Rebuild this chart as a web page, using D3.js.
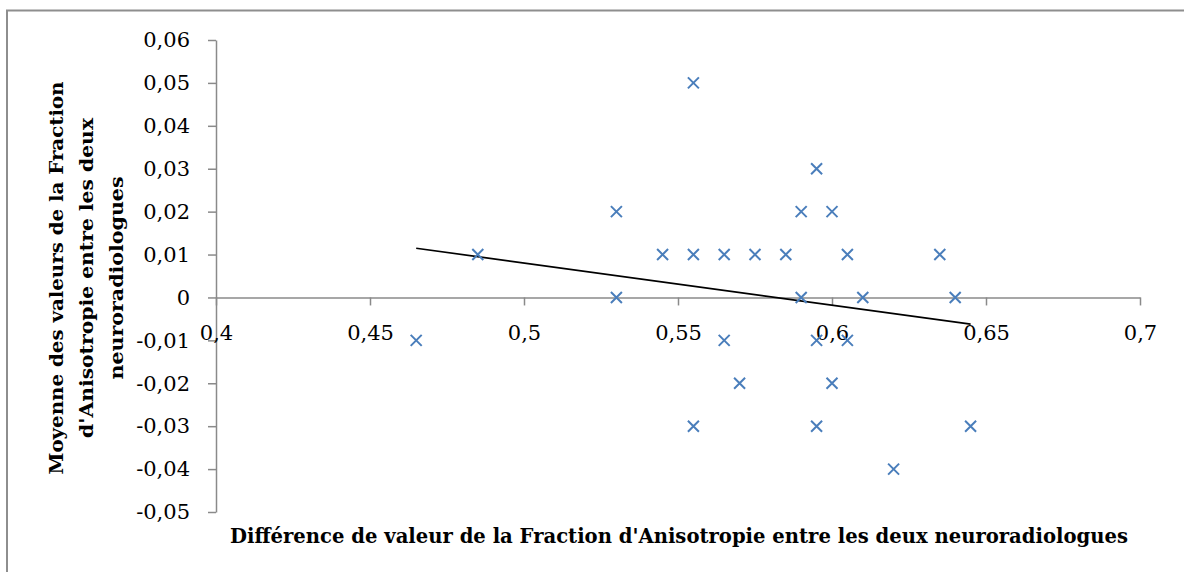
<!DOCTYPE html>
<html><head><meta charset="utf-8">
<script src="https://cdn.jsdelivr.net/npm/d3@7"></script>
<style>html,body{margin:0;padding:0;background:#fff;}svg{display:block;}</style>
</head><body>
<svg id="chart" width="1184" height="572"></svg>
<script>
const xValues = [0.465,0.485,0.53,0.53,0.545,0.555,0.555,0.555,0.565,0.565,0.57,0.575,0.585,0.59,0.59,0.595,0.595,0.595,0.6,0.6,0.605,0.605,0.61,0.62,0.635,0.64,0.645];
const yValues = [-0.01,0.01,0.02,0,0.01,0.05,0.01,-0.03,0.01,-0.01,-0.02,0.01,0.01,0.02,0,0.03,-0.01,-0.03,0.02,-0.02,0.01,-0.01,0,-0.04,0.01,0,-0.03];
const xTicks = [0.4,0.45,0.5,0.55,0.6,0.65,0.7];
const xTickLabels = ["0,4","0,45","0,5","0,55","0,6","0,65","0,7"];
const yTicks = [0.06,0.05,0.04,0.03,0.02,0.01,0,-0.01,-0.02,-0.03,-0.04,-0.05];
const yTickLabels = ["0,06","0,05","0,04","0,03","0,02","0,01","0","-0,01","-0,02","-0,03","-0,04","-0,05"];
const xTitle = "Différence de valeur de la Fraction d'Anisotropie entre les deux neuroradiologues";
const yTitleLines = ["Moyenne des valeurs de la Fraction","d'Anisotropie entre les deux","neuroradiologues"];

const svg = d3.select("#chart");
const axisColor = "#8a8a8a";
const serif = "'DejaVu Serif', serif";

// outer frame
svg.append("rect").attr("x",7).attr("y",10.5).attr("width",1200).attr("height",600)
  .attr("fill","none").attr("stroke","#8e8e8e").attr("stroke-width",2);

const x = d3.scaleLinear().domain([0.4,0.7]).range([216,1140]);
const y = d3.scaleLinear().domain([-0.05,0.06]).range([512,40]);

// Y axis
const yAxis = d3.axisLeft(y).tickValues(yTicks).tickSize(8).tickSizeOuter(0).tickPadding(18)
  .tickFormat((d,i)=>yTickLabels[yTicks.indexOf(d)]);
const gy = svg.append("g").attr("transform",`translate(${x(0.4)},0)`).call(yAxis);
gy.select(".domain").attr("stroke",axisColor).attr("stroke-width",1.5);
gy.selectAll(".tick line").attr("stroke",axisColor).attr("stroke-width",1.5);
gy.selectAll(".tick text").attr("font-family",serif).attr("font-size",21).attr("fill","#000");

// X axis at y = 0
const xAxis = d3.axisBottom(x).tickValues(xTicks).tickSize(8).tickSizeOuter(0).tickPadding(20)
  .tickFormat(d=>xTickLabels[xTicks.indexOf(d)]);
const gx = svg.append("g").attr("transform",`translate(0,${y(0)})`).call(xAxis);
gx.select(".domain").attr("stroke",axisColor).attr("stroke-width",1.5);
gx.selectAll(".tick line").attr("stroke",axisColor).attr("stroke-width",1.5);
gx.selectAll(".tick text").attr("font-family",serif).attr("font-size",21).attr("fill","#000");

// trend line (least squares)
const n = xValues.length;
const mx = d3.mean(xValues), my = d3.mean(yValues);
let sxy=0, sxx=0;
for(let i=0;i<n;i++){ sxy += (xValues[i]-mx)*(yValues[i]-my); sxx += (xValues[i]-mx)**2; }
const slope = sxy/sxx, icpt = my - slope*mx;
const x0 = d3.min(xValues), x1 = d3.max(xValues);
svg.append("line")
  .attr("x1",x(x0)).attr("y1",y(icpt+slope*x0))
  .attr("x2",x(x1)).attr("y2",y(icpt+slope*x1))
  .attr("stroke","#000").attr("stroke-width",1.7);

// markers
const pts = xValues.map((v,i)=>({x:v,y:yValues[i]}));
svg.append("g").selectAll("path").data(pts).join("path")
  .attr("transform",d=>`translate(${x(d.x)},${y(d.y)})`)
  .attr("d","M-5.5,-5.5L5.5,5.5M-5.5,5.5L5.5,-5.5")
  .attr("stroke","#4a7ebb").attr("stroke-width",2).attr("fill","none");

// x title
svg.append("text").attr("x",679).attr("y",543).attr("text-anchor","middle")
  .attr("font-family",serif).attr("font-weight","bold").attr("font-size",20)
  .attr("textLength",898).attr("lengthAdjust","spacingAndGlyphs")
  .text(xTitle);

// y title
const yLens = [393,320,203];
const yCx = [57,87,117];
yTitleLines.forEach((t,i)=>{
  svg.append("text")
    .attr("transform",`translate(${yCx[i]+6},278) rotate(-90)`)
    .attr("text-anchor","middle")
    .attr("font-family",serif).attr("font-weight","bold").attr("font-size",18)
    .attr("textLength",yLens[i]).attr("lengthAdjust","spacingAndGlyphs")
    .text(t);
});
</script>
</body></html>
